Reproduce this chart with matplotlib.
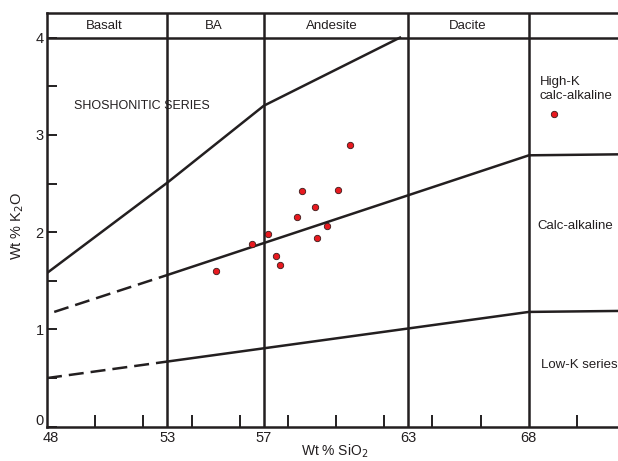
import matplotlib
matplotlib.use("Agg")
import matplotlib.pyplot as plt
import matplotlib.transforms as mtransforms

plt.rcParams["font.family"] = ["Liberation Sans", "DejaVu Sans"]

# Samples
sio2 = [60.57, 58.57, 60.07, 59.12, 58.36, 59.63, 57.16, 59.20, 56.49, 57.49, 57.68, 55.01, 69.04]
k2o = [2.90, 2.42, 2.43, 2.26, 2.16, 2.06, 1.98, 1.94, 1.88, 1.76, 1.66, 1.60, 3.21]

# Series boundaries
shosh_x = [48, 53, 57, 62.65]
shosh_y = [1.58, 2.51, 3.30, 4.0]
highk_x = [53, 68, 71.7]
highk_y = [1.56, 2.79, 2.80]
highk_dash_x = [48.3, 53]
highk_dash_y = [1.18, 1.56]
lowk_x = [53, 68, 71.7]
lowk_y = [0.67, 1.18, 1.19]
lowk_dash_x = [48, 53]
lowk_dash_y = [0.50, 0.67]

# Rock type fields along the top
rock_bounds = [53, 57, 63, 68]
rock_names = ["Basalt", "BA", "Andesite", "Dacite"]
rock_centres = [50.37, 54.93, 59.83, 65.45]

xtick_vals = [48, 53, 57, 63, 68]
xminor_vals = [50, 52, 54, 56, 58, 60, 62, 64, 66, 70]
ytick_vals = [0, 1, 2, 3, 4]
yminor_vals = [0.5, 1.5, 2.5, 3.5]

ink = "#231f20"
lw = 1.8

fig = plt.figure(figsize=(6.18, 4.61), dpi=100)
ax = fig.add_axes([47 / 618, 34.3 / 461, 571 / 618, 413.4 / 461])
ax.set_xlim(48, 71.7)
ax.set_ylim(0, 4.25)

for s in ["left", "bottom", "top"]:
    ax.spines[s].set_linewidth(lw)
    ax.spines[s].set_color(ink)
ax.spines["right"].set_visible(False)

ax.set_xticks(xtick_vals)
ax.set_xticks(xminor_vals, minor=True)
ax.set_yticks(ytick_vals)
ax.set_yticks(yminor_vals, minor=True)
ax.tick_params(axis="x", which="both", direction="in", length=9, width=1.4,
               color=ink, labelsize=10.5, pad=3, labelcolor=ink)
ax.tick_params(axis="x", which="major", length=0)
ax.tick_params(axis="y", which="both", direction="in", length=7.5, width=1.4,
               color=ink, labelsize=10.5, pad=2.5, labelcolor=ink)

# "0" sits a little above the corner, "48" a little right of it
lab0 = ax.get_yticklabels()[0]
lab0.set_transform(lab0.get_transform() + mtransforms.ScaledTranslation(0, 5 / 72, fig.dpi_scale_trans))
lab48 = ax.get_xticklabels()[0]
lab48.set_transform(lab48.get_transform() + mtransforms.ScaledTranslation(3 / 72, 0, fig.dpi_scale_trans))

# vertical field lines and header
for b in rock_bounds:
    ax.plot([b, b], [0, 4.25], color=ink, lw=lw, solid_capstyle="butt")
ax.axhline(4, color=ink, lw=lw)
for name, c in zip(rock_names, rock_centres):
    ax.text(c, 4.115, name, ha="center", va="center", fontsize=9.5, color=ink)

# series boundaries
ax.plot(shosh_x, shosh_y, color=ink, lw=lw)
ax.plot(highk_x, highk_y, color=ink, lw=lw)
ax.plot(lowk_x, lowk_y, color=ink, lw=lw)
ax.plot(highk_dash_x, highk_dash_y, color=ink, lw=lw, dashes=(6, 2.8))
ax.plot(lowk_dash_x, lowk_dash_y, color=ink, lw=lw, dashes=(6, 2.8))

ax.text(49.12, 3.30, "SHOSHONITIC SERIES", ha="left", va="center", fontsize=9, color=ink)
ax.text(68.46, 3.47, "High-K\ncalc-alkaline", ha="left", va="center", fontsize=9.5,
        color=ink, linespacing=1.15)
ax.text(68.37, 2.06, "Calc-alkaline", ha="left", va="center", fontsize=9.5, color=ink)
ax.text(68.5, 0.63, "Low-K series", ha="left", va="center", fontsize=9.5, color=ink)

ax.plot(sio2, k2o, "o", color="#e8191f", markersize=4.6,
        markeredgecolor="#3a1a1a", markeredgewidth=0.6, zorder=5)

fig.text(335 / 618, 1 - 443 / 461, "Wt % SiO$_2$", ha="center", va="top",
         fontsize=10, color=ink)
fig.text(18 / 618, 1 - 226 / 461, "Wt % K$_2$O", ha="center", va="center",
         rotation=90, fontsize=10.5, color=ink)

fig.savefig("out.png", dpi=100)
